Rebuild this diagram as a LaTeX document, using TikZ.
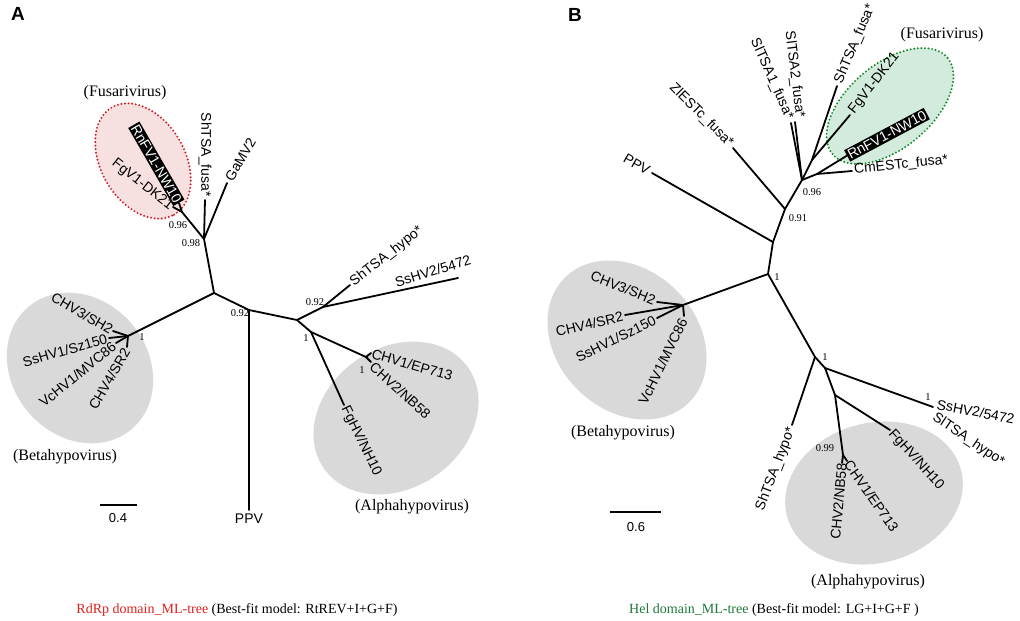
\documentclass[tikz,border=0pt]{standalone}
\usepackage{fontspec}
\setmainfont{Liberation Serif}
\newfontfamily\arial{Liberation Sans}
\usetikzlibrary{shapes.geometric}
\definecolor{grayfill}{HTML}{D9D9D9}
\definecolor{pinkfill}{HTML}{F7E0E0}
\definecolor{reddot}{HTML}{D0202A}
\definecolor{greenfill}{HTML}{D3EBDC}
\definecolor{greendot}{HTML}{1A8A2E}
\definecolor{capred}{HTML}{E0201E}
\definecolor{capgreen}{HTML}{1E7A3A}
\begin{document}
\begin{tikzpicture}[x=1pt,y=-1pt,
  br/.style={line width=1.8pt,line cap=round,line join=round},
  leaf/.style={font=\arial\fontsize{14}{16}\selectfont,inner sep=1pt},
  boxleaf/.style={leaf,fill=black,text=white,inner sep=1.5pt},
  boot/.style={font=\fontsize{10.5}{12}\selectfont,inner sep=0pt},
  clade/.style={font=\fontsize{16}{18}\selectfont,inner sep=0pt},
  grayell/.style={ellipse,fill=grayfill,draw=none,inner sep=0pt},
  dotell/.style={ellipse,inner sep=0pt,line width=2.2pt,line cap=round,dash pattern=on 0pt off 3.6pt},
  panel/.style={font=\arial\bfseries\fontsize{19}{21}\selectfont,inner sep=0pt},
  scalelab/.style={font=\arial\fontsize{13}{15}\selectfont,inner sep=0pt},
  captxt/.style={font=\fontsize{14}{16}\selectfont,inner sep=0pt}]
\useasboundingbox (0,0) rectangle (1020,621);
\fill[white] (0,0) rectangle (1020,621);
% ---------------- background clades ----------------
\node[grayell,minimum width=160pt,minimum height=136pt,rotate=-50] (eAbeta) at (80,368) {};
\node[grayell,minimum width=176pt,minimum height=140pt,rotate=35] (eAalpha) at (396,418) {};
\node[ellipse,fill=pinkfill,inner sep=0pt,minimum width=124pt,minimum height=84pt,rotate=-60] (eAfus) at (143,161) {};
\node[dotell,draw=reddot,minimum width=124pt,minimum height=84pt,rotate=-60] (eAfusb) at (143,161) {};
\node[grayell,minimum width=176pt,minimum height=140pt,rotate=-45] (eBbeta) at (627,340) {};
\node[grayell,minimum width=180pt,minimum height=140pt,rotate=15] (eBalpha) at (874,493) {};
\node[ellipse,fill=greenfill,inner sep=0pt,minimum width=150pt,minimum height=84pt,rotate=40] (eBfus) at (890,106) {};
\node[dotell,draw=greendot,minimum width=150pt,minimum height=84pt,rotate=40] (eBfusb) at (890,106) {};
% ---------------- panel A ----------------
\node[panel] (labA) at (18,14) {A};
\coordinate (A0) at (214,293);
\coordinate (A98) at (204,239);
\coordinate (A96) at (182,212);
\coordinate (tRn) at (179,203);
\coordinate (tFg) at (173,207);
\coordinate (tShf) at (205,200);
\coordinate (tGa) at (227,183);
\coordinate (ABeta) at (128,336);
\coordinate (tCHV3a) at (113,331);
\coordinate (tSs1a) at (109,338);
\coordinate (tVca) at (116,343);
\coordinate (tCHV4a) at (127,347);
\coordinate (A92L) at (249,310);
\coordinate (tPPVa) at (249,510);
\coordinate (A1) at (297,320);
\coordinate (A92R) at (323,307);
\coordinate (tShha) at (350,285);
\coordinate (tSs2a) at (458,278);
\coordinate (AAl) at (311,332);
\coordinate (tFgH) at (344,405);
\coordinate (ACHV) at (366,357);
\coordinate (tCHV1a) at (371,353);
\coordinate (tCHV2a) at (371,362);
\draw[br] (A0) -- (A98) -- (A96) -- (tRn);
\draw[br] (A96) -- (tFg);
\draw[br] (A98) -- (tShf);
\draw[br] (A98) -- (tGa);
\draw[br] (A0) -- (ABeta);
\draw[br] (ABeta) -- (tCHV3a);
\draw[br] (ABeta) -- (tSs1a);
\draw[br] (ABeta) -- (tVca);
\draw[br] (ABeta) -- (tCHV4a);
\draw[br] (A0) -- (A92L) -- (A1) -- (A92R) -- (tShha);
\draw[br] (A92L) -- (tPPVa);
\draw[br] (A92R) -- (tSs2a);
\draw[br] (A1) -- (AAl) -- (tFgH);
\draw[br] (AAl) -- (ACHV) -- (tCHV1a);
\draw[br] (ACHV) -- (tCHV2a);
\node[boxleaf,anchor=east,rotate=-60] (lRnA) at (tRn) {RnFV1-NW10};
\node[leaf,anchor=east,rotate=-38] (lFgA) at (172,208) {FgV1-DK21};
\node[leaf,anchor=east,rotate=-90] (lShfA) at (205,198) {ShTSA\_fusa*};
\node[leaf,anchor=west,rotate=60] (lGaA) at (228,181) {GaMV2};
\node[leaf,anchor=east,rotate=-30] (lCHV3A) at (113,331) {CHV3/SH2};
\node[leaf,anchor=east,rotate=16] (lSs1A) at (108,338) {SsHV1/Sz150};
\node[leaf,anchor=east,rotate=39] (lVcA) at (115,344) {VcHV1/MVC86};
\node[leaf,anchor=east,rotate=60] (lCHV4A) at (127,348) {CHV4/SR2};
\node[leaf,anchor=north] (lPPVA) at (249,513) {PPV};
\node[leaf,anchor=west,rotate=38] (lShhA) at (351,284) {ShTSA\_hypo*};
\node[leaf,anchor=south west,rotate=17] (lSs2A) at (396,289) {SsHV2/5472};
\node[leaf,anchor=west,rotate=-64] (lFgHA) at (344,406) {FgHV/NH10};
\node[leaf,anchor=west,rotate=-16] (lCHV1A) at (371,353) {CHV1/EP713};
\node[leaf,anchor=west,rotate=-42] (lCHV2A) at (371,364) {CHV2/NB58};
\node[boot] (bA1) at (178,225) {0.96};
\node[boot] (bA2) at (191,243) {0.98};
\node[boot] (bA3) at (142,337) {1};
\node[boot] (bA4) at (240,313) {0.92};
\node[boot] (bA5) at (315,302) {0.92};
\node[boot] (bA6) at (306,338) {1};
\node[boot] (bA7) at (362,370) {1};
\node[clade] (cA1) at (125,93) {(Fusarivirus)};
\node[clade] (cA2) at (65,457) {(Betahypovirus)};
\node[clade] (cA3) at (412,507) {(Alphahypovirus)};
\coordinate (sA1) at (100,505);
\coordinate (sA2) at (137,505);
\draw[line width=1.6pt] (sA1) -- (sA2);
\node[scalelab] (sAl) at (118,518) {0.4};
\node[captxt] (capA) at (237,610) {\textcolor{capred}{RdRp domain\_ML-tree} (Best-fit model: RtREV+I+G+F)};
% ---------------- panel B ----------------
\node[panel] (labB) at (575,15) {B};
\coordinate (B1) at (768,274);
\coordinate (Bppv) at (773,242);
\coordinate (tPPVb) at (652,173);
\coordinate (B91) at (785,209);
\coordinate (tZl) at (733,148);
\coordinate (B96) at (802,180);
\coordinate (tSl1) at (791,123);
\coordinate (tSl2) at (795,122);
\coordinate (Bf1) at (812,160);
\coordinate (tShfb) at (837,86);
\coordinate (tFgb) at (850,115);
\coordinate (Bf2) at (817,174);
\coordinate (tRnb) at (848,155);
\coordinate (tCm) at (852,171);
\coordinate (BBeta) at (683,305);
\coordinate (tCHV3b) at (657,302);
\coordinate (tCHV4b) at (625,315);
\coordinate (tSs1b) at (657,318);
\coordinate (tVcb) at (684,316);
\coordinate (B1b) at (815,357);
\coordinate (tShhb) at (792,425);
\coordinate (Ba) at (825,368);
\coordinate (BSs) at (933,407);
\coordinate (Ba2) at (835,395);
\coordinate (tFgHb) at (890,430);
\coordinate (BCHV) at (843,455);
\coordinate (tCHV2b) at (842,463);
\coordinate (tCHV1b) at (847,461);
\draw[br] (B1) -- (Bppv) -- (tPPVb);
\draw[br] (Bppv) -- (B91) -- (tZl);
\draw[br] (B91) -- (B96) -- (tSl1);
\draw[br] (B96) -- (tSl2);
\draw[br] (B96) -- (Bf1) -- (tShfb);
\draw[br] (Bf1) -- (tFgb);
\draw[br] (B96) -- (Bf2) -- (tRnb);
\draw[br] (Bf2) -- (tCm);
\draw[br] (B1) -- (BBeta);
\draw[br] (BBeta) -- (tCHV3b);
\draw[br] (BBeta) -- (tCHV4b);
\draw[br] (BBeta) -- (tSs1b);
\draw[br] (BBeta) -- (tVcb);
\draw[br] (B1) -- (B1b) -- (tShhb);
\draw[br] (B1b) -- (Ba) -- (BSs);
\draw[br] (Ba) -- (Ba2) -- (tFgHb);
\draw[br] (Ba2) -- (BCHV) -- (tCHV2b);
\draw[br] (BCHV) -- (tCHV1b);
\node[leaf,anchor=east,rotate=-30] (lPPVB) at (650,172) {PPV};
\node[leaf,anchor=east,rotate=-45] (lZlB) at (732,146) {ZlESTc\_fusa*};
\node[leaf,anchor=east,rotate=-66] (lSl1B) at (790,120) {SlTSA1\_fusa*};
\node[leaf,anchor=east,rotate=-83] (lSl2B) at (800,119) {SlTSA2\_fusa*};
\node[leaf,anchor=west,rotate=67] (lShfB) at (838,84) {ShTSA\_fusa*};
\node[leaf,anchor=west,rotate=52] (lFgB) at (851,113) {FgV1-DK21};
\node[boxleaf,anchor=west,rotate=28] (lRnB) at (847,156) {RnFV1-NW10};
\node[leaf,anchor=west,rotate=6] (lCmB) at (853,170) {CmESTc\_fusa*};
\node[leaf,anchor=east,rotate=-22] (lCHV3B) at (656,301) {CHV3/SH2};
\node[leaf,anchor=east,rotate=13] (lCHV4B) at (624,316) {CHV4/SR2};
\node[leaf,anchor=east,rotate=26] (lSs1B) at (656,319) {SsHV1/Sz150};
\node[leaf,anchor=east,rotate=64] (lVcB) at (684,318) {VcHV1/MVC86};
\node[leaf,anchor=east,rotate=69] (lShhB) at (792,427) {ShTSA\_hypo*};
\node[leaf,anchor=west,rotate=-11] (lSs2B) at (936,404) {SsHV2/5472};
\node[leaf,anchor=west,rotate=-34] (lSlhB) at (933,416) {SlTSA\_hypo*};
\node[leaf,anchor=west,rotate=-48] (lFgHB) at (890,431) {FgHV/NH10};
\node[leaf,anchor=east,rotate=85] (lCHV2B) at (842,462) {CHV2/NB58};
\node[leaf,anchor=west,rotate=-55] (lCHV1B) at (847,461) {CHV1/EP713};
\node[boot] (bB1) at (798,218) {0.91};
\node[boot] (bB2) at (812,192) {0.96};
\node[boot] (bB3) at (777,277) {1};
\node[boot] (bB4) at (825,357) {1};
\node[boot] (bB5) at (928,397) {1};
\node[boot] (bB6) at (825,448) {0.99};
\node[clade] (cB1) at (942,35) {(Fusarivirus)};
\node[clade] (cB2) at (623,433) {(Betahypovirus)};
\node[clade] (cB3) at (868,582) {(Alphahypovirus)};
\coordinate (sB1) at (610,512);
\coordinate (sB2) at (661,512);
\draw[line width=1.6pt] (sB1) -- (sB2);
\node[scalelab] (sBl) at (636,527) {0.6};
\node[captxt] (capB) at (774,610) {\textcolor{capgreen}{Hel domain\_ML-tree} (Best-fit model: LG+I+G+F )};
\end{tikzpicture}
\end{document}
